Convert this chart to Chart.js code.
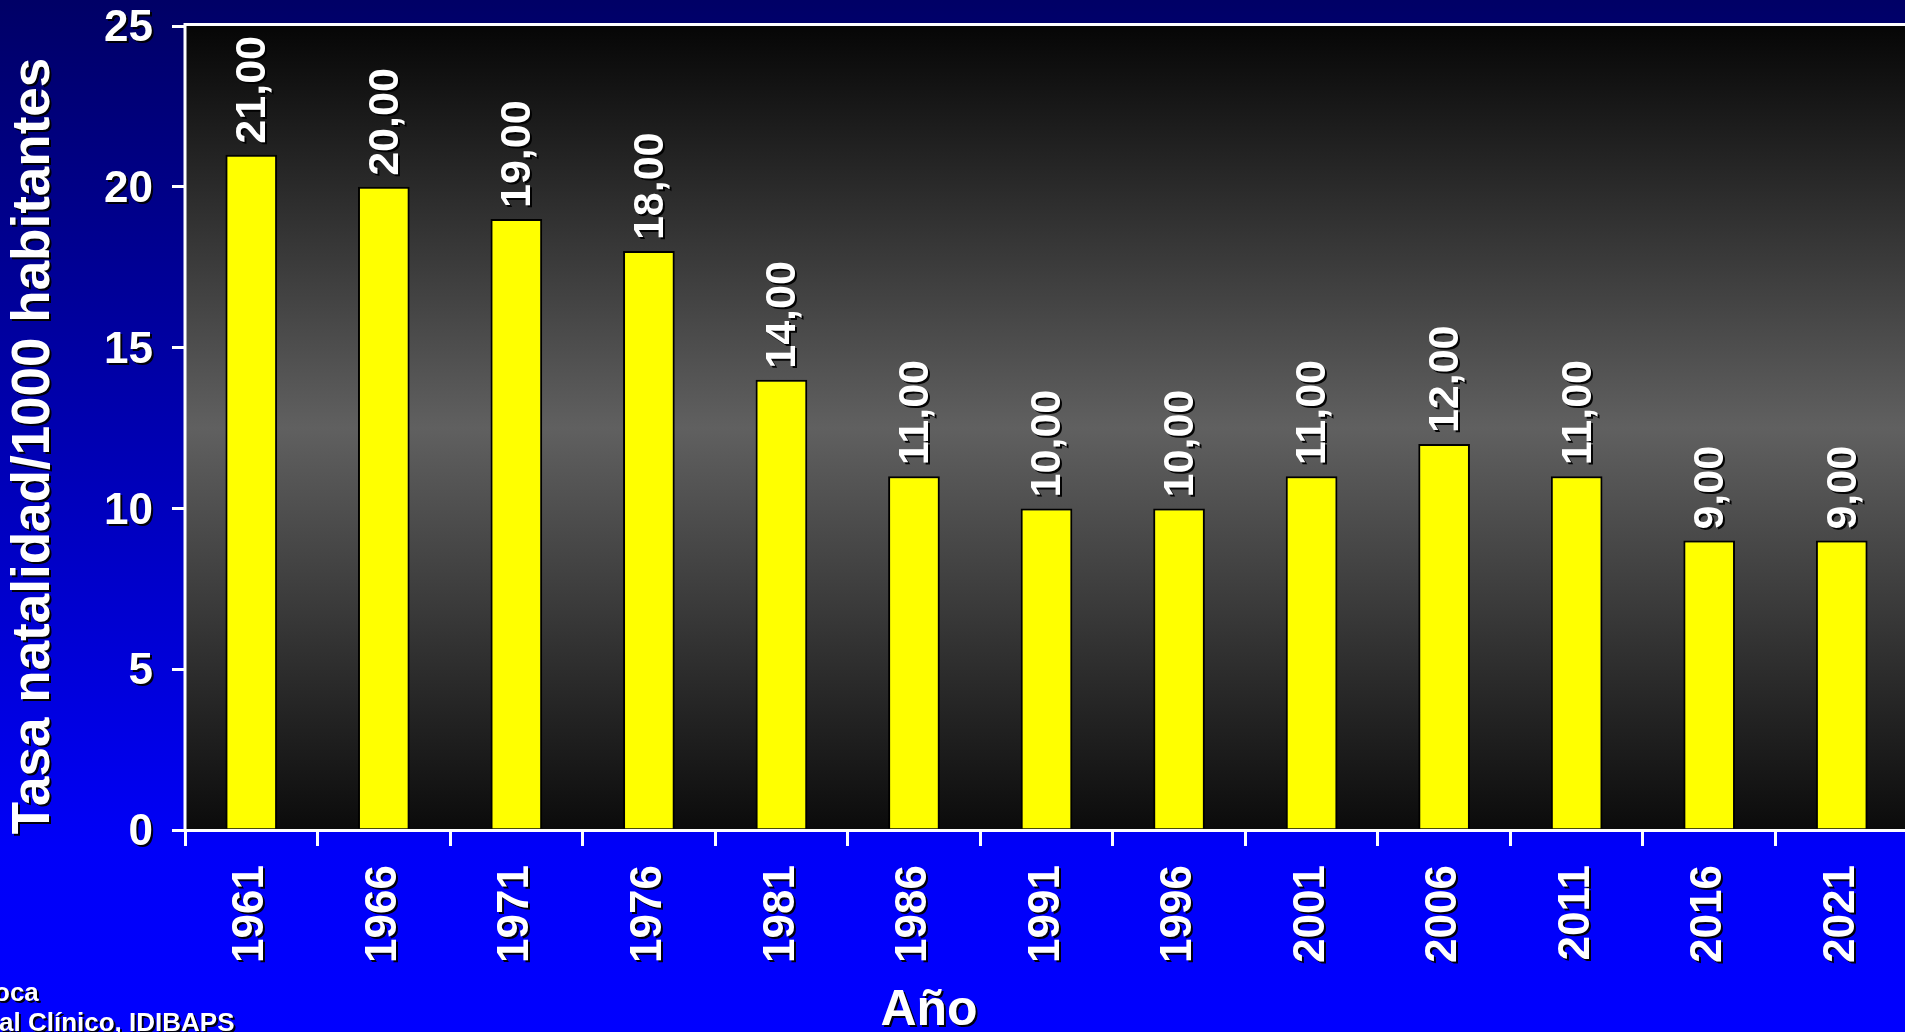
<!DOCTYPE html>
<html lang="es">
<head>
<meta charset="utf-8">
<title>Tasa de natalidad</title>
<script src="https://cdn.jsdelivr.net/npm/chart.js@4.4.1/dist/chart.umd.min.js"></script>
<style>
  html, body { margin: 0; padding: 0; overflow: hidden; background: #0000ff; }
  #wrap { position: relative; width: 1908px; height: 1032px; }
</style>
</head>
<body>
<div id="wrap"><canvas id="natalidad"></canvas></div>
<script>
// --- datos ---
const years = ['1961', '1966', '1971', '1976', '1981', '1986', '1991', '1996', '2001', '2006', '2011', '2016', '2021'];
const rates = [21, 20, 19, 18, 14, 11, 10, 10, 11, 12, 11, 9, 9];
const yTicks = [0, 5, 10, 15, 20, 25];

const FONT = "'Liberation Sans', Arial, sans-serif";

// sombra negra de los textos
const setShadow = (ctx, on) => {
    ctx.shadowColor = on ? 'rgba(0,0,0,0.95)' : 'rgba(0,0,0,0)';
    ctx.shadowOffsetX = on ? 2 : 0;
    ctx.shadowOffsetY = on ? 2 : 0;
    ctx.shadowBlur = 0;
};

const decor = {
    id: 'decor',
    beforeDraw(chart) {
        const { ctx, chartArea: a, width, height } = chart;
        setShadow(ctx, false);
        ctx.save();
        // fondo azul
        let g = ctx.createLinearGradient(0, 0, 0, height);
        g.addColorStop(0, '#000066');
        g.addColorStop(0.82, '#0000f8');
        g.addColorStop(1, '#0000ff');
        ctx.fillStyle = g;
        ctx.fillRect(0, 0, width, height);
        // área del gráfico: negro - gris - negro
        g = ctx.createLinearGradient(0, a.top, 0, a.bottom);
        g.addColorStop(0, '#060606');
        g.addColorStop(0.5, '#606060');
        g.addColorStop(1, '#0b0b0b');
        ctx.fillStyle = g;
        ctx.fillRect(a.left, a.top, a.right - a.left, a.bottom - a.top);
        ctx.restore();
    },
    afterDatasetsDraw(chart) {
        const { ctx, chartArea: a } = chart;
        ctx.save();
        // ejes y marco superior
        ctx.strokeStyle = '#ffffff';
        ctx.lineWidth = 3;
        ctx.beginPath();
        ctx.moveTo(a.left - 1.5, a.top - 1.5);
        ctx.lineTo(a.right, a.top - 1.5);
        ctx.moveTo(a.left, a.top - 3);
        ctx.lineTo(a.left, a.bottom);
        ctx.moveTo(a.left - 13, a.bottom + 0.5);
        ctx.lineTo(a.right, a.bottom + 0.5);
        ctx.stroke();

        // valores encima de cada barra
        setShadow(ctx, true);
        ctx.fillStyle = '#ffffff';
        ctx.font = `bold 43px ${FONT}`;
        ctx.textAlign = 'left';
        ctx.textBaseline = 'middle';
        chart.getDatasetMeta(0).data.forEach((bar, i) => {
            ctx.save();
            ctx.translate(bar.x + 2, bar.y - 11);
            ctx.rotate(-Math.PI / 2);
            ctx.fillText(rates[i].toFixed(2).replace('.', ','), 0, 0);
            ctx.restore();
        });
        ctx.restore();
        // las etiquetas de los ejes se dibujan después, con sombra
        setShadow(ctx, true);
    },
    afterDraw(chart) {
        const { ctx } = chart;
        ctx.save();
        setShadow(ctx, true);
        ctx.fillStyle = '#ffffff';

        ctx.font = `bold 53px ${FONT}`;
        ctx.textAlign = 'center';
        ctx.textBaseline = 'middle';
        ctx.save();
        ctx.translate(34, 446);
        ctx.rotate(-Math.PI / 2);
        ctx.fillText('Tasa natalidad/1000 habitantes', 0, 0);
        ctx.restore();

        ctx.font = `bold 50px ${FONT}`;
        ctx.textBaseline = 'alphabetic';
        ctx.fillText('Año', 929, 1025);

        ctx.font = `bold 26px ${FONT}`;
        ctx.textAlign = 'left';
        ctx.fillText('oca', -6, 1001);
        ctx.fillText('al Clínico, IDIBAPS', -1, 1031);
        ctx.restore();
        setShadow(ctx, false);
    }
};

new Chart(document.getElementById('natalidad'), {
    type: 'bar',
    data: {
        labels: years,
        datasets: [{
            data: rates,
            backgroundColor: '#ffff00',
            borderColor: '#000000',
            borderWidth: 2,
            barPercentage: 0.39,
            categoryPercentage: 1
        }]
    },
    options: {
        responsive: true,
        maintainAspectRatio: false,
        animation: false,
        layout: { padding: { top: 26, right: 0, left: 0, bottom: 0 } },
        plugins: {
            legend: { display: false },
            tooltip: { enabled: false }
        },
        scales: {
            x: {
                grid: { drawOnChartArea: false, color: '#ffffff', lineWidth: 3, tickLength: 16, offset: true },
                border: { display: false },
                ticks: {
                    color: '#ffffff',
                    font: { family: FONT, size: 44, weight: 'bold' },
                    minRotation: 90,
                    maxRotation: 90,
                    padding: 19,
                    z: 1
                },
                afterFit: (s) => { s.height = 202; s.paddingLeft = 0; s.paddingRight = 0; }
            },
            y: {
                min: 0,
                max: 25,
                afterBuildTicks: (s) => { s.ticks = yTicks.map(v => ({ value: v })); },
                grid: { drawOnChartArea: false, color: '#ffffff', lineWidth: 3, tickLength: 13 },
                border: { display: false },
                ticks: {
                    color: '#ffffff',
                    font: { family: FONT, size: 44, weight: 'bold' },
                    padding: 19,
                    labelOffset: 3,
                    z: 1
                },
                afterFit: (s) => { s.width = 185; s.paddingTop = 0; s.paddingBottom = 0; }
            }
        }
    },
    plugins: [decor]
});
</script>
</body>
</html>
